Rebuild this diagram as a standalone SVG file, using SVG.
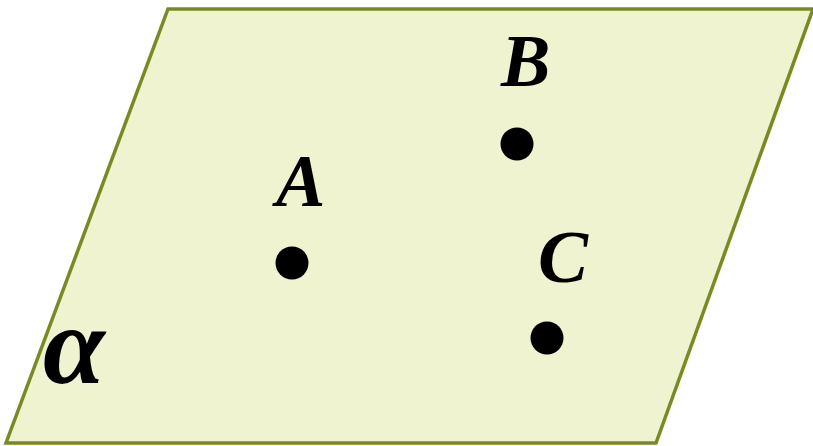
<svg xmlns="http://www.w3.org/2000/svg" width="813" height="446" viewBox="0 0 813 446">
<style>
.plane{fill:#EFF3CF;stroke:#7A8A22;stroke-width:3.5;stroke-linejoin:miter}
.pt{fill:#000}
.lbl{font-family:"Liberation Serif","Times New Roman",serif;font-weight:bold;font-style:italic;fill:#000}
</style>
<g id="plane">
<polygon class="plane" points="168,9 813,9 656,443 6,443"/>
<text class="lbl" x="43" y="383" font-size="112">α</text>
</g>
<g id="A">
<circle class="pt" cx="292" cy="263" r="16.5"/>
<text class="lbl" x="276" y="206" font-size="74">A</text>
</g>
<g id="B">
<circle class="pt" cx="517" cy="144" r="16.5"/>
<text class="lbl" x="501" y="86" font-size="74">B</text>
</g>
<g id="C">
<circle class="pt" cx="547" cy="338" r="16.5"/>
<text class="lbl" x="538" y="282" font-size="75">C</text>
</g>
<g id="connectors"></g>
</svg>
